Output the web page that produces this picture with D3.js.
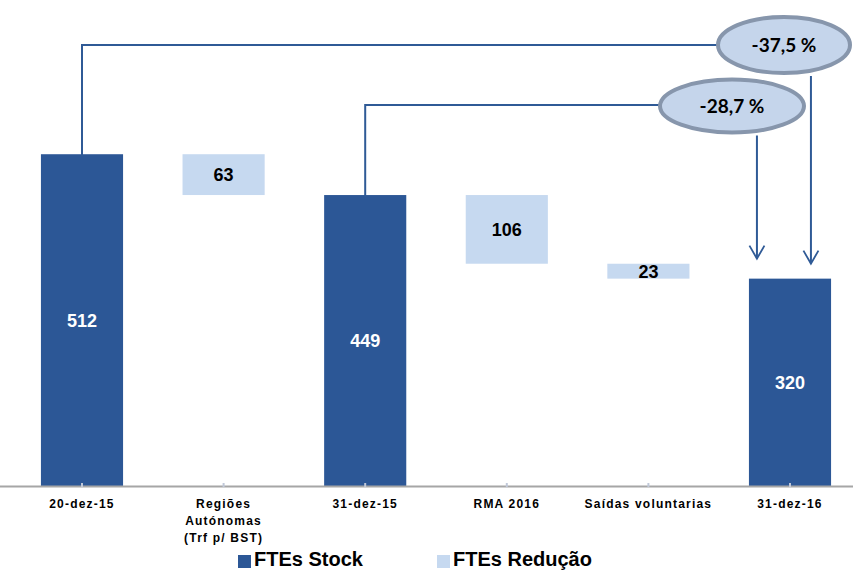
<!DOCTYPE html>
<html>
<head>
<meta charset="utf-8">
<script src="https://cdn.jsdelivr.net/npm/d3@7"></script>
<style>
  html, body { margin: 0; padding: 0; background: #ffffff; }
  svg { display: block; }
</style>
</head>
<body>
<div id="chart"></div>
<script>
// ---- Data ----
const categories = ["20-dez-15", "Regiões\nAutónomas\n(Trf p/ BST)", "31-dez-15", "RMA 2016", "Saídas voluntarias", "31-dez-16"];
const stockValues = [512, null, 449, null, null, 320];
const reductionValues = [null, 63, null, 106, 23, null];
const legendLabels = ["FTEs Stock", "FTEs Redução"];
const changeLabels = ["-37,5 %", "-28,7 %"];

// ---- Layout ----
const W = 853, H = 571;
const colStock = "#2c5796";
const colRed = "#c6d9f0";
const colLine = "#2f5a96";
const colEllFill = "#c5d5eb";
const colEllStroke = "#8796ac";

const svg = d3.select("#chart").append("svg").attr("width", W).attr("height", H);

const x = d3.scaleBand().domain(categories).range([11.2, 860.8]).paddingInner(0.42).paddingOuter(0.21);
const y = d3.scaleLinear().domain([0, 750]).range([486, 0]);

// Build waterfall rows
let running = 0;
const rows = categories.map((c, i) => {
  if (stockValues[i] != null) {
    running = stockValues[i];
    return { c, type: "stock", v: stockValues[i], y0: 0, y1: stockValues[i] };
  } else {
    const top = running;
    running = running - reductionValues[i];
    return { c, type: "red", v: reductionValues[i], y0: running, y1: top };
  }
});

// Bars
svg.append("g").selectAll("rect").data(rows).join("rect")
  .attr("x", d => x(d.c))
  .attr("width", x.bandwidth())
  .attr("y", d => y(d.y1))
  .attr("height", d => y(d.y0) - y(d.y1))
  .attr("fill", d => d.type === "stock" ? colStock : colRed);

// Value labels
svg.append("g").selectAll("text").data(rows).join("text")
  .attr("x", d => x(d.c) + x.bandwidth() / 2)
  .attr("y", d => (y(d.y0) + y(d.y1)) / 2)
  .attr("dy", "0.36em")
  .attr("text-anchor", "middle")
  .attr("font-family", "'Liberation Sans', Arial, sans-serif")
  .attr("font-weight", "bold")
  .attr("font-size", 18)
  .attr("fill", d => d.type === "stock" ? "#ffffff" : "#000000")
  .text(d => d.v);

// Axis
const axisG = svg.append("g").attr("transform", `translate(0,${y(0)})`);
axisG.append("line").attr("x1", 0).attr("x2", W).attr("y1", 0.5).attr("y2", 0.5)
  .attr("stroke", "#a6a6a6").attr("stroke-width", 2);
axisG.selectAll("line.tick").data(categories).join("line").attr("class", "tick")
  .attr("x1", d => x(d) + x.bandwidth() / 2).attr("x2", d => x(d) + x.bandwidth() / 2)
  .attr("y1", -3).attr("y2", 1)
  .attr("stroke", "#c0c8d8").attr("stroke-width", 2);

const lab = axisG.selectAll("text").data(categories).join("text")
  .attr("text-anchor", "middle")
  .attr("font-family", "'Liberation Sans', Arial, sans-serif")
  .attr("font-weight", "bold")
  .attr("font-size", 12)
  .attr("letter-spacing", "1.2px")
  .attr("fill", "#000");
lab.each(function(d) {
  const t = d3.select(this);
  d.split("\n").forEach((line, k) => {
    t.append("tspan").attr("x", x(d) + x.bandwidth() / 2).attr("y", 22 + k * 17).text(line);
  });
});

// Annotations: connector lines and ellipses
const cx = c => x(c) + x.bandwidth() / 2;
const last = categories[5];
const ann = [
  { from: categories[0], lineY: 45, ell: { cx: 784, cy: 45, rx: 66, ry: 28 }, label: changeLabels[0], arrowX: x(last) + 62, tip: y(320) - 15 },
  { from: categories[2], lineY: 105, ell: { cx: 732, cy: 106, rx: 72, ry: 26.5 }, label: changeLabels[1], arrowX: x(last) + 8, tip: y(320) - 20 }
];
const ag = svg.append("g");
ann.forEach(a => {
  const fx = cx(a.from);
  const topV = rows[categories.indexOf(a.from)].y1;
  ag.append("path")
    .attr("d", `M${fx},${y(topV) + 2}V${a.lineY}H${a.ell.cx - a.ell.rx}`)
    .attr("fill", "none").attr("stroke", colLine).attr("stroke-width", 2);
  // arrow down
  ag.append("path")
    .attr("d", `M${a.arrowX},${a.ell.cy + a.ell.ry + 3}V${a.tip}`)
    .attr("fill", "none").attr("stroke", colLine).attr("stroke-width", 2);
  ag.append("path")
    .attr("d", `M${a.arrowX - 7.5},${a.tip - 13}L${a.arrowX},${a.tip}L${a.arrowX + 7.5},${a.tip - 13}`)
    .attr("fill", "none").attr("stroke", colLine).attr("stroke-width", 1.8);
});
ann.forEach(a => {
  ag.append("ellipse")
    .attr("cx", a.ell.cx).attr("cy", a.ell.cy).attr("rx", a.ell.rx).attr("ry", a.ell.ry)
    .attr("fill", colEllFill).attr("stroke", colEllStroke).attr("stroke-width", 4);
  ag.append("text")
    .attr("x", a.ell.cx).attr("y", a.ell.cy).attr("dy", "0.36em")
    .attr("text-anchor", "middle")
    .attr("font-family", "Lato, 'Noto Sans', sans-serif")
    .attr("font-weight", "bold").attr("font-size", 19)
    .attr("fill", "#000")
    .text(a.label);
});

// Legend
const legend = [
  { label: legendLabels[0], color: colStock, x: 238 },
  { label: legendLabels[1], color: colRed, x: 437 }
];
const lg = svg.append("g");
legend.forEach(l => {
  lg.append("rect").attr("x", l.x).attr("y", 555).attr("width", 13).attr("height", 13).attr("fill", l.color);
  lg.append("text").attr("x", l.x + 16).attr("y", 566)
    .attr("font-family", "'Liberation Sans', Arial, sans-serif")
    .attr("font-weight", "bold").attr("font-size", 20)
    .attr("fill", "#000").text(l.label);
});
</script>
</body>
</html>
